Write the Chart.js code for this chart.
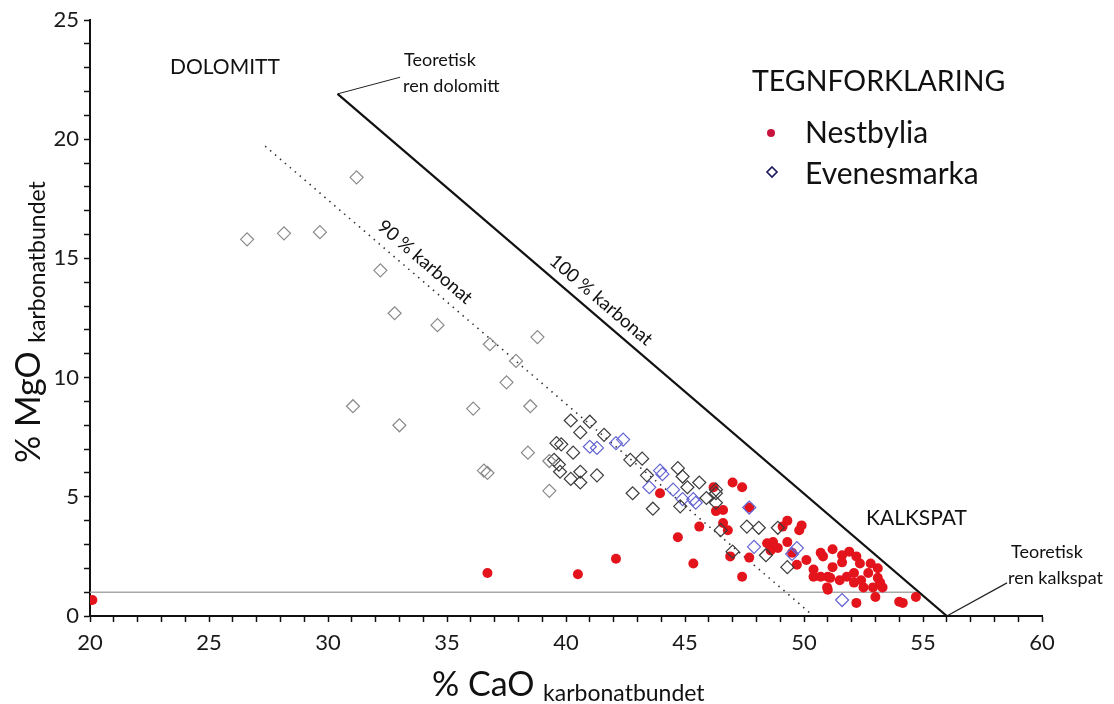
<!DOCTYPE html>
<html>
<head>
<meta charset="utf-8">
<script src="https://cdn.jsdelivr.net/npm/chart.js@4.4.0/dist/chart.umd.min.js"></script>
<style>
  html, body { margin: 0; padding: 0; background: #fff; }
</style>
</head>
<body>
<canvas id="chart" width="1114" height="704"></canvas>
<script>
// Nestbylia (% CaO, % MgO)
const nestbylia = [
  [20.1,0.67],[36.7,1.8],[40.5,1.75],[42.1,2.4],[43.95,5.15],[46.2,5.4],[45.6,3.75],[44.7,3.3],
  [45.35,2.2],[47.0,5.6],[47.4,5.4],[46.3,4.4],[46.6,4.45],[46.6,3.9],[46.8,3.6],[47.4,1.65],
  [46.9,2.5],[47.7,2.45],[47.7,4.55],[49.3,4.0],[49.1,3.75],[49.9,3.8],[49.8,3.6],[48.45,3.05],
  [48.7,3.1],[48.9,2.85],[48.6,2.75],[49.3,3.1],[49.5,2.65],[49.7,2.15],[50.1,2.35],[50.4,1.95],
  [50.7,2.65],[51.2,2.8],[51.0,1.65],[50.4,1.65],[50.97,1.2],[50.8,2.5],[51.9,2.7],[51.2,2.05],
  [51.6,2.25],[51.1,1.6],[51.0,1.1],[52.2,2.5],[52.35,2.2],[52.1,1.8],[52.1,1.4],[52.7,1.8],
  [52.5,1.2],[53.1,2.0],[53.1,1.6],[53.3,1.2],[53.0,0.8],[52.9,1.2],[52.2,0.55],[54.0,0.6],
  [54.15,0.55],[54.7,0.8],[52.8,2.2],[51.8,1.65],[51.5,1.5],[51.6,2.55],[50.7,1.65],[52.4,1.5],
  [53.2,1.4]
];

// Evenesmarka, split by how the symbols are shaded in the figure
const evenesGraa = [
  [26.6,15.8],[28.15,16.05],[29.66,16.1],[31.2,18.4],[32.2,14.5],[32.8,12.7],[34.6,12.2],
  [36.8,11.4],[37.9,10.7],[38.8,11.7],[37.5,9.8],[38.5,8.8],[31.05,8.8],[33.0,8.0],[36.1,8.7],
  [36.55,6.1],[36.7,6.0],[38.4,6.85],[39.3,5.25],[39.3,6.5]
];
const evenesMork = [
  [40.2,8.2],[40.6,7.7],[39.6,7.25],[39.8,7.2],[40.3,6.85],[39.5,6.55],[39.7,6.35],[39.75,6.05],
  [40.2,5.75],[40.6,6.05],[40.6,5.6],[41.3,5.9],[42.7,6.55],[43.2,6.6],[43.4,5.9],[44.7,6.2],
  [44.9,5.85],[42.8,5.15],[43.65,4.5],[45.1,5.4],[45.6,5.6],[44.8,4.6],[45.9,4.95],[46.3,5.3],
  [46.3,5.15],[46.3,4.75],[47.6,3.75],[48.1,3.7],[48.9,3.7],[47.0,2.7],[48.4,2.55],[49.3,2.05],
  [46.5,3.6],[41.0,8.15],[41.6,7.6]
];
const evenesBla = [
  [41.0,7.1],[41.3,7.05],[42.1,7.25],[42.4,7.4],[43.95,6.1],[44.05,5.95],[43.5,5.4],[44.5,5.3],
  [45.35,4.9],[45.45,4.75],[44.9,4.9],[47.7,4.55],[47.9,2.9],[49.7,2.85],[49.5,2.6],[51.6,0.67]
];

// reference lines
const renDolomitt = [30.4, 21.9];
const renKalkspat = [56, 0];
const linje100 = [renDolomitt, renKalkspat];
const linje90 = [[27.36, 19.71], [50.4, 0]];
const linjeMg1 = [[20, 1], [54.83, 1]];
const pilDolomitt = [renDolomitt, [33.03, 22.6]];
const pilKalkspat = [renKalkspat, [58.53, 1.39]];

const xTicks = [20, 25, 30, 35, 40, 45, 50, 55, 60];
const yTicks = [0, 5, 10, 15, 20, 25];

const pts = arr => arr.map(p => ({ x: p[0], y: p[1] }));
const FONT = 'Lato, "Open Sans", sans-serif';

const tekstPlugin = {
  id: 'tekster',
  afterDraw(chart) {
    const { ctx, scales: { x, y } } = chart;
    ctx.save();
    ctx.fillStyle = '#111';
    ctx.textBaseline = 'middle';
    ctx.textAlign = 'left';

    ctx.font = '21px ' + FONT;
    ctx.fillText('DOLOMITT', 170, 67);
    ctx.fillText('KALKSPAT', 866, 518);

    ctx.font = '18px ' + FONT;
    ctx.fillText('Teoretisk', 404, 60);
    ctx.fillText('ren dolomitt', 403, 86);
    ctx.fillText('Teoretisk', 1011, 552);
    ctx.fillText('ren kalkspat', 1008, 578);

    // legend
    ctx.font = '28.5px ' + FONT;
    ctx.fillText('TEGNFORKLARING', 752, 82);
    ctx.font = '30px ' + FONT;
    ctx.fillText('Nestbylia', 805, 133);
    ctx.fillText('Evenesmarka', 805, 174);
    ctx.fillStyle = '#c8143c';
    ctx.beginPath(); ctx.arc(771, 133, 4, 0, 2 * Math.PI); ctx.fill();
    ctx.strokeStyle = '#1a1a5a';
    ctx.lineWidth = 1.6;
    ctx.beginPath();
    ctx.moveTo(772, 167); ctx.lineTo(777, 172); ctx.lineTo(772, 177); ctx.lineTo(767, 172);
    ctx.closePath(); ctx.stroke();

    // rotated labels along the carbonate lines
    const ang = Math.atan2(
      y.getPixelForValue(renKalkspat[1]) - y.getPixelForValue(renDolomitt[1]),
      x.getPixelForValue(renKalkspat[0]) - x.getPixelForValue(renDolomitt[0]));
    ctx.fillStyle = '#111';
    ctx.font = '18.5px ' + FONT;
    ctx.textAlign = 'center';
    [['100 % karbonat', 601, 300], ['90 % karbonat', 425, 262]].forEach(t => {
      ctx.save();
      ctx.translate(t[1], t[2]);
      ctx.rotate(ang);
      ctx.fillText(t[0], 0, 0);
      ctx.restore();
    });

    // axis titles with subscript
    ctx.textAlign = 'left';
    ctx.textBaseline = 'alphabetic';
    ctx.save();
    ctx.translate(40, 463);
    ctx.rotate(-Math.PI / 2);
    ctx.font = '34px ' + FONT;
    ctx.fillText('% MgO', 0, 0);
    const w1 = ctx.measureText('% MgO ').width;
    ctx.font = '23px ' + FONT;
    ctx.fillText('karbonatbundet', w1, 5);
    ctx.restore();

    ctx.font = '34px ' + FONT;
    ctx.fillText('% CaO', 432, 696);
    const w2 = ctx.measureText('% CaO ').width;
    ctx.font = '23px ' + FONT;
    ctx.fillText('karbonatbundet', 432 + w2, 701);
    ctx.restore();
  }
};

const linjeSett = (data, color, width, dash, order) => ({
  type: 'scatter', data: pts(data), showLine: true, pointRadius: 0,
  borderColor: color, borderWidth: width, borderDash: dash, order: order, fill: false
});

const ruter = (data, color) => ({
  data: pts(data), pointStyle: 'rectRot', pointRadius: 6.5,
  borderColor: color, borderWidth: 1.2, backgroundColor: 'rgba(0,0,0,0)', order: 1
});

new Chart(document.getElementById('chart'), {
  type: 'scatter',
  data: {
    datasets: [
      ruter(evenesGraa, '#8a8a8a'),
      ruter(evenesMork, '#3c3c3c'),
      ruter(evenesBla, '#6464d4'),
      { data: pts(nestbylia), pointStyle: 'circle', pointRadius: 5, borderWidth: 0,
        backgroundColor: '#e3141c', order: 5 },
      linjeSett(linje100, '#111', 2.2, [], 10),
      linjeSett(linje90, '#333', 1.6, [1.5, 5], 10),
      linjeSett(linjeMg1, '#a8a8a8', 1.5, [], 10),
      linjeSett(pilDolomitt, '#222', 1, [], 10),
      linjeSett(pilKalkspat, '#222', 1.2, [], 10)
    ]
  },
  options: {
    responsive: false,
    animation: false,
    layout: { padding: { top: 20, right: 72, left: 0, bottom: 0 } },
    plugins: { legend: { display: false }, tooltip: { enabled: false } },
    scales: {
      x: {
        type: 'linear', min: 20, max: 60,
        afterFit: s => { s.height = 88; },
        border: { color: '#111', width: 2 },
        grid: { drawOnChartArea: false, tickLength: 6, tickColor: '#111', tickWidth: 1.5 },
        ticks: {
          stepSize: 1, autoSkip: false, maxRotation: 0, padding: 8,
          color: '#1a1a1a', font: { family: FONT, size: 22 },
          callback: v => xTicks.includes(v) ? String(v) : ''
        }
      },
      y: {
        type: 'linear', min: 0, max: 25,
        afterFit: s => { s.width = 90; },
        border: { color: '#111', width: 2 },
        grid: { drawOnChartArea: false, tickLength: 6, tickColor: '#111', tickWidth: 1.5 },
        ticks: {
          stepSize: 1, autoSkip: false, padding: 5,
          color: '#1a1a1a', font: { family: FONT, size: 22 },
          callback: v => yTicks.includes(v) ? String(v) : ''
        }
      }
    }
  },
  plugins: [tekstPlugin]
});
</script>
</body>
</html>
